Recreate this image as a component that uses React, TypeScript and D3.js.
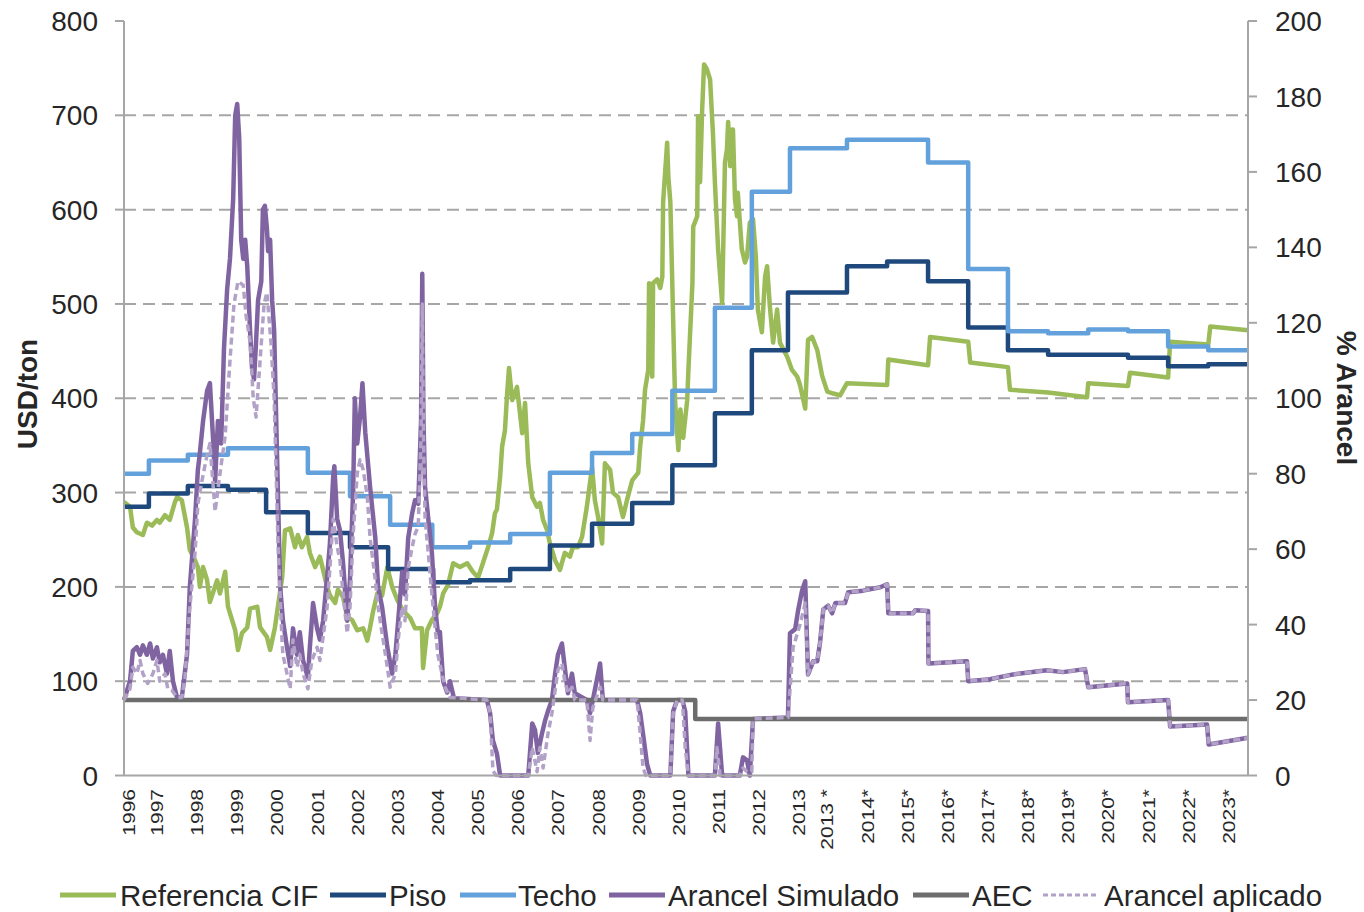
import { useEffect, useRef } from 'react';
import * as d3 from 'd3';

type Pt = [number, number];

// x values are fractional years, y in USD/ton (left) or % (right)
const referenciaCif: Pt[] = [
  [1996.18, 290], [1996.33, 285], [1996.40, 263], [1996.50, 258], [1996.65, 255], [1996.75, 268],
  [1996.88, 265], [1997.00, 271], [1997.07, 268], [1997.20, 276], [1997.32, 271], [1997.45, 290],
  [1997.50, 295], [1997.62, 292], [1997.75, 263], [1997.82, 239], [1997.95, 228], [1998.02, 221],
  [1998.07, 200], [1998.15, 221], [1998.25, 207], [1998.32, 184], [1998.50, 207], [1998.57, 193],
  [1998.70, 216], [1998.77, 179], [1998.95, 154], [1999.02, 133], [1999.12, 151], [1999.25, 157],
  [1999.32, 177], [1999.50, 179], [1999.57, 157], [1999.74, 147], [1999.82, 133], [1999.94, 157],
  [2000.02, 181], [2000.12, 210], [2000.19, 260], [2000.32, 262], [2000.44, 242], [2000.51, 255],
  [2000.61, 242], [2000.74, 253], [2000.81, 236], [2000.94, 221], [2001.06, 232], [2001.14, 218],
  [2001.24, 200], [2001.31, 191], [2001.44, 183], [2001.51, 197], [2001.64, 189], [2001.74, 168],
  [2001.86, 165], [2001.99, 154], [2002.14, 156], [2002.24, 143], [2002.31, 157], [2002.39, 175],
  [2002.49, 193], [2002.61, 191], [2002.74, 221], [2002.86, 200], [2002.99, 186], [2003.13, 175],
  [2003.31, 167], [2003.43, 156], [2003.60, 156], [2003.63, 114], [2003.73, 154], [2003.85, 165],
  [2003.98, 172], [2004.05, 179], [2004.13, 193], [2004.25, 202], [2004.38, 225], [2004.55, 221],
  [2004.73, 225], [2004.87, 216], [2005.00, 210], [2005.12, 225], [2005.25, 242], [2005.35, 257],
  [2005.42, 278], [2005.47, 282], [2005.55, 317], [2005.60, 349], [2005.67, 366], [2005.72, 402],
  [2005.77, 432], [2005.85, 398], [2005.97, 412], [2006.10, 363], [2006.17, 395], [2006.25, 331],
  [2006.35, 295], [2006.47, 285], [2006.54, 289], [2006.62, 271], [2006.72, 260], [2006.79, 246],
  [2006.92, 228], [2007.04, 218], [2007.16, 236], [2007.29, 232], [2007.36, 242], [2007.49, 242],
  [2007.59, 253], [2007.71, 285], [2007.84, 327], [2007.91, 292], [2007.99, 274], [2008.09, 246],
  [2008.16, 331], [2008.29, 324], [2008.36, 300], [2008.49, 295], [2008.61, 274], [2008.71, 292],
  [2008.84, 313], [2008.99, 321], [2009.04, 350], [2009.11, 376], [2009.16, 409], [2009.24, 430],
  [2009.26, 522], [2009.34, 423], [2009.36, 522], [2009.46, 526], [2009.54, 517], [2009.59, 529],
  [2009.61, 608], [2009.71, 671], [2009.74, 635], [2009.79, 608], [2009.91, 395], [2009.99, 345],
  [2010.04, 388], [2010.11, 358], [2010.21, 398], [2010.24, 430], [2010.34, 522], [2010.36, 582],
  [2010.46, 593], [2010.48, 699], [2010.53, 629], [2010.58, 703], [2010.63, 754], [2010.70, 749],
  [2010.78, 738], [2010.85, 682], [2010.90, 629], [2010.98, 558], [2011.08, 501], [2011.15, 650],
  [2011.20, 664], [2011.23, 693], [2011.28, 646], [2011.33, 685], [2011.35, 685], [2011.40, 611],
  [2011.45, 593], [2011.47, 618], [2011.57, 558], [2011.65, 544], [2011.70, 550], [2011.77, 586],
  [2011.85, 590], [2011.92, 550], [2011.97, 494], [2012.07, 470], [2012.15, 529], [2012.20, 540],
  [2012.27, 497], [2012.35, 459], [2012.45, 494], [2012.52, 459], [2012.70, 444], [2012.82, 430],
  [2012.95, 423], [2013.02, 414], [2013.15, 389], [2013.22, 462], [2013.32, 465], [2013.45, 451],
  [2013.57, 424], [2013.70, 407], [2013.85, 405], [2014.02, 403], [2014.19, 416], [2015.19, 414],
  [2015.22, 441], [2016.21, 435], [2016.26, 465], [2017.21, 460], [2017.26, 438], [2018.20, 433],
  [2018.25, 409], [2019.20, 406], [2020.17, 401], [2020.20, 416], [2021.19, 413], [2021.24, 427],
  [2022.19, 422], [2022.24, 460], [2023.19, 457], [2023.24, 476], [2024.18, 472],
];

const piso: Pt[] = [
  [1996.18, 285], [1996.80, 299], [1997.77, 307], [1998.77, 303], [1999.72, 279], [2000.76, 257],
  [2001.81, 242], [2002.76, 219], [2003.88, 205], [2004.80, 207], [2005.80, 219], [2006.79, 244],
  [2007.84, 267], [2008.84, 289], [2009.84, 329], [2010.90, 384], [2011.82, 451], [2012.72, 512],
  [2014.19, 540], [2015.19, 545], [2016.21, 524], [2017.21, 475], [2018.20, 451], [2019.20, 446],
  [2021.19, 443], [2022.19, 434], [2023.19, 436], [2024.18, 436],
];

const techo: Pt[] = [
  [1996.18, 320], [1996.80, 334], [1997.77, 340], [1998.77, 347], [2000.76, 321], [2001.81, 296],
  [2002.81, 266], [2003.86, 242], [2004.80, 247], [2005.80, 256], [2006.79, 321], [2007.84, 342],
  [2008.84, 362], [2009.84, 408], [2010.90, 496], [2011.82, 619], [2012.77, 665], [2014.19, 674],
  [2016.21, 650], [2017.21, 537], [2018.20, 471], [2019.20, 469], [2020.20, 473], [2021.19, 471],
  [2022.19, 455], [2023.19, 451], [2024.18, 451],
];

const arancelSimulado: Pt[] = [
  [1996.18, 20], [1996.20, 20.7], [1996.33, 25], [1996.40, 33], [1996.50, 34], [1996.58, 32],
  [1996.65, 34.5], [1996.75, 32], [1996.83, 35], [1996.90, 31], [1997.00, 34], [1997.07, 30],
  [1997.15, 32], [1997.25, 27], [1997.32, 33], [1997.40, 25], [1997.50, 20.7], [1997.62, 20.7],
  [1997.75, 32], [1997.82, 50], [1997.95, 68], [1998.02, 81], [1998.07, 85.5], [1998.15, 94],
  [1998.25, 102], [1998.32, 104], [1998.40, 89], [1998.45, 78], [1998.52, 94], [1998.60, 88],
  [1998.67, 113], [1998.75, 129], [1998.82, 137], [1998.90, 153], [1998.95, 175], [1999.00, 178],
  [1999.05, 169], [1999.10, 142], [1999.15, 137], [1999.20, 142], [1999.25, 135], [1999.32, 118],
  [1999.37, 108], [1999.42, 105], [1999.47, 115], [1999.52, 126], [1999.60, 131], [1999.64, 150],
  [1999.69, 151], [1999.74, 145], [1999.77, 139], [1999.82, 142], [1999.87, 126], [1999.92, 118],
  [1999.99, 86], [2000.07, 50], [2000.14, 41], [2000.24, 34], [2000.32, 29], [2000.39, 39],
  [2000.49, 32], [2000.56, 38], [2000.64, 30.5], [2000.76, 26], [2000.81, 34], [2000.89, 45.7],
  [2000.99, 39], [2001.06, 36], [2001.14, 41], [2001.24, 52.6], [2001.31, 61.6], [2001.39, 79],
  [2001.42, 82], [2001.49, 68], [2001.56, 65], [2001.64, 56], [2001.74, 41], [2001.81, 52],
  [2001.89, 76], [2001.93, 100], [2001.99, 88], [2002.06, 95], [2002.12, 104], [2002.19, 91],
  [2002.31, 76.5], [2002.44, 63], [2002.51, 50], [2002.61, 44.6], [2002.74, 34], [2002.86, 27],
  [2002.94, 32], [2003.01, 41], [2003.11, 54], [2003.18, 48], [2003.26, 63], [2003.36, 69.6],
  [2003.43, 73], [2003.51, 72], [2003.58, 94], [2003.61, 133], [2003.64, 94], [2003.68, 76.5],
  [2003.76, 68], [2003.85, 59], [2003.93, 44.6], [2004.00, 37.7], [2004.05, 38], [2004.13, 25],
  [2004.23, 22], [2004.30, 25], [2004.40, 20.5], [2005.22, 20], [2005.30, 16.5], [2005.37, 9.3],
  [2005.47, 5.8], [2005.55, 0], [2006.25, 0], [2006.35, 13.8], [2006.42, 12], [2006.49, 6],
  [2006.59, 11], [2006.67, 14.6], [2006.74, 17], [2006.84, 20], [2006.92, 27], [2006.99, 32],
  [2007.09, 35], [2007.16, 28.7], [2007.24, 21.8], [2007.34, 27], [2007.41, 21.8], [2007.54, 21],
  [2007.71, 20], [2007.79, 16.5], [2007.86, 20], [2008.04, 29.7], [2008.11, 20], [2008.96, 20],
  [2009.04, 16.5], [2009.11, 11], [2009.21, 3], [2009.29, 0], [2009.79, 0], [2009.86, 17],
  [2009.96, 20], [2010.09, 20], [2010.16, 17], [2010.24, 0], [2010.90, 0], [2010.98, 13.8],
  [2011.08, 0], [2011.52, 0], [2011.60, 4.8], [2011.70, 4], [2011.77, 0], [2011.85, 15],
  [2012.72, 15.4], [2012.77, 37.7], [2012.90, 38.8], [2012.97, 43.6], [2013.07, 49], [2013.15, 51.5],
  [2013.22, 26.8], [2013.35, 30.3], [2013.45, 30.3], [2013.52, 35.3], [2013.60, 44], [2013.72, 45],
  [2013.82, 43], [2013.90, 45.7], [2014.14, 45.7], [2014.22, 48.6], [2014.59, 49], [2015.02, 49.9],
  [2015.19, 50.7], [2015.22, 43], [2015.84, 43], [2015.89, 43.8], [2016.21, 43.6], [2016.22, 29.7],
  [2017.18, 30.3], [2017.21, 25], [2017.75, 25.5], [2018.33, 26.8], [2019.17, 27.9], [2019.57, 27.4],
  [2020.12, 28.2], [2020.20, 23.4], [2021.17, 24.4], [2021.19, 19.4], [2022.19, 20], [2022.24, 13],
  [2023.16, 13.5], [2023.20, 8.2], [2024.18, 10],
];

const aec: Pt[] = [[1996.18, 20], [2010.41, 15], [2024.18, 15]];

const arancelAplicado: Pt[] = [
  [1996.18, 20], [1996.33, 23], [1996.40, 28.7], [1996.50, 27], [1996.58, 30.5], [1996.65, 27],
  [1996.77, 24.4], [1996.90, 27], [1997.00, 30.5], [1997.07, 25], [1997.20, 27], [1997.27, 23],
  [1997.37, 22.6], [1997.50, 20.7], [1997.62, 20.7], [1997.70, 26], [1997.82, 44.6], [1997.95, 59],
  [1998.02, 72], [1998.12, 78], [1998.25, 85], [1998.32, 88], [1998.45, 70], [1998.57, 80],
  [1998.70, 90], [1998.82, 110], [1998.92, 125], [1999.02, 131], [1999.15, 130], [1999.22, 122],
  [1999.32, 115], [1999.40, 100], [1999.47, 95], [1999.57, 110], [1999.67, 125], [1999.74, 128],
  [1999.84, 115], [1999.92, 100], [2000.02, 60], [2000.12, 35], [2000.14, 32], [2000.24, 27],
  [2000.32, 23], [2000.39, 36], [2000.49, 28.7], [2000.56, 32], [2000.64, 27], [2000.76, 23],
  [2000.86, 30.5], [2000.99, 34], [2001.06, 30.5], [2001.14, 36.7], [2001.24, 44.6], [2001.31, 55],
  [2001.39, 68], [2001.49, 60.6], [2001.56, 57], [2001.64, 48], [2001.74, 37.7], [2001.81, 44.6],
  [2001.89, 64], [2001.99, 80], [2002.06, 83.7], [2002.14, 81], [2002.24, 74], [2002.31, 63],
  [2002.44, 51.8], [2002.51, 44.6], [2002.61, 37.7], [2002.74, 28.7], [2002.81, 23.4], [2002.94, 27],
  [2003.01, 36], [2003.11, 44.6], [2003.18, 41], [2003.26, 55], [2003.36, 60.6], [2003.43, 64],
  [2003.51, 66], [2003.58, 90], [2003.61, 125], [2003.64, 90], [2003.68, 68], [2003.76, 59],
  [2003.85, 48], [2003.93, 39], [2004.00, 32], [2004.10, 27], [2004.18, 23.4], [2004.30, 20.7],
  [2005.22, 20], [2005.30, 16.5], [2005.37, 1.3], [2005.45, 0], [2006.25, 0], [2006.35, 7.4],
  [2006.47, 1], [2006.54, 7.4], [2006.62, 2], [2006.74, 11], [2006.84, 16.5], [2006.92, 22.6],
  [2006.99, 28], [2007.09, 29.7], [2007.16, 25], [2007.24, 21.8], [2007.34, 23.4], [2007.41, 20],
  [2007.71, 20], [2007.79, 9.3], [2007.86, 18], [2008.04, 23.4], [2008.11, 20], [2008.96, 20],
  [2009.04, 11], [2009.11, 2], [2009.18, 0], [2009.79, 0], [2009.86, 16.5], [2009.96, 20],
  [2010.09, 20], [2010.16, 7.4], [2010.24, 0], [2010.90, 0], [2010.95, 7.4], [2011.03, 0],
  [2011.52, 0], [2011.60, 2], [2011.70, 1], [2011.82, 1], [2011.85, 15], [2012.72, 15.4],
  [2012.85, 34], [2013.02, 40], [2013.15, 45.7], [2013.22, 26.8], [2013.35, 30.3], [2013.45, 30.3],
  [2013.52, 35.3], [2013.60, 44], [2013.72, 45], [2013.82, 43], [2013.90, 45.7], [2014.14, 45.7],
  [2014.22, 48.6], [2014.59, 49], [2015.02, 49.9], [2015.19, 50.7], [2015.22, 43], [2015.84, 43],
  [2015.89, 43.8], [2016.21, 43.6], [2016.22, 29.7], [2017.18, 30.3], [2017.21, 25], [2017.75, 25.5],
  [2018.33, 26.8], [2019.17, 27.9], [2019.57, 27.4], [2020.12, 28.2], [2020.20, 23.4], [2021.17, 24.4],
  [2021.19, 19.4], [2022.19, 20], [2022.24, 13], [2023.16, 13.5], [2023.20, 8.2], [2024.18, 10],
];

// x-axis labels and where they sit on the time axis
const xLabels = [
  '1996', '1997', '1998', '1999', '2000', '2001', '2002', '2003', '2004', '2005', '2006', '2007',
  '2008', '2009', '2010', '2011', '2012', '2013', '2013 *', '2014*', '2015*', '2016*', '2017*',
  '2018*', '2019*', '2020*', '2021*', '2022*', '2023*',
];
const xLabelPos = [
  1996.3, 1997, 1998, 1999, 2000, 2001, 2002, 2003, 2004, 2005, 2006, 2007, 2008, 2009, 2010,
  2011, 2012, 2013, 2013.7, 2014.7, 2015.7, 2016.7, 2017.7, 2018.7, 2019.7, 2020.7, 2021.7,
  2022.7, 2023.7,
];
const leftTicks = [0, 100, 200, 300, 400, 500, 600, 700, 800];
const rightTicks = [0, 20, 40, 60, 80, 100, 120, 140, 160, 180, 200];

const FONT = "'Liberation Sans', Arial, sans-serif";

const SERIES = [
  { name: 'Referencia CIF', color: '#9bbb59', width: 4.5, dash: null, lx: 60, tx: 120 },
  { name: 'Piso', color: '#1f497d', width: 4.5, dash: null, lx: 330, tx: 389 },
  { name: 'Techo', color: '#63a1dc', width: 4.5, dash: null, lx: 460, tx: 518 },
  { name: 'Arancel Simulado', color: '#8064a2', width: 4.5, dash: null, lx: 609, tx: 668 },
  { name: 'AEC', color: '#6d6d6d', width: 4.5, dash: null, lx: 913, tx: 972 },
  { name: 'Arancel aplicado', color: '#b3a2c7', width: 3.5, dash: '7,4', lx: 1043, tx: 1104 },
];

export default function App() {
  const svgRef = useRef<SVGSVGElement>(null);

  useEffect(() => {
    if (!svgRef.current) return;
    const svg = d3.select(svgRef.current);
    svg.selectAll('*').remove();

    const left = 124, right = 1248, top = 21, bottom = 775.5;
    const x = d3.scaleLinear().domain([1996.18, 2024.18]).range([left, right]);
    const yL = d3.scaleLinear().domain([0, 800]).range([bottom, top]);
    const yR = d3.scaleLinear().domain([0, 200]).range([bottom, top]);
    const axisColor = '#a6a6a6';
    const textColor = '#262626';

    // gridlines
    svg.append('g')
      .selectAll('line')
      .data(leftTicks.filter(d => d > 0 && d < 800))
      .enter()
      .append('line')
      .attr('x1', left).attr('x2', right)
      .attr('y1', d => yL(d)).attr('y2', d => yL(d))
      .attr('stroke', axisColor)
      .attr('stroke-width', 2)
      .attr('stroke-dasharray', '12,7');

    const lineL = d3.line<Pt>().x(d => x(d[0])).y(d => yL(d[1]));
    const lineR = d3.line<Pt>().x(d => x(d[0])).y(d => yR(d[1]));
    const stepL = d3.line<Pt>().x(d => x(d[0])).y(d => yL(d[1])).curve(d3.curveStepAfter);
    const stepR = d3.line<Pt>().x(d => x(d[0])).y(d => yR(d[1])).curve(d3.curveStepAfter);

    const plot = svg.append('g');
    const draw = (path: string | null, s: typeof SERIES[0]) => {
      plot.append('path')
        .attr('d', path)
        .attr('fill', 'none')
        .attr('stroke', s.color)
        .attr('stroke-width', s.width)
        .attr('stroke-linejoin', 'round')
        .attr('stroke-dasharray', s.dash);
    };
    draw(lineL(referenciaCif), SERIES[0]);
    draw(stepL(piso), SERIES[1]);
    draw(stepL(techo), SERIES[2]);
    draw(lineR(arancelSimulado), SERIES[3]);
    draw(stepR(aec), SERIES[4]);
    draw(lineR(arancelAplicado), SERIES[5]);

    // axes
    const ax = svg.append('g').attr('stroke', axisColor).attr('stroke-width', 2);
    ax.append('line').attr('x1', left).attr('x2', left).attr('y1', top).attr('y2', bottom);
    ax.append('line').attr('x1', right).attr('x2', right).attr('y1', top).attr('y2', bottom);
    ax.append('line').attr('x1', left).attr('x2', right).attr('y1', bottom).attr('y2', bottom);
    leftTicks.forEach(t => {
      ax.append('line').attr('x1', left - 9).attr('x2', left).attr('y1', yL(t)).attr('y2', yL(t));
    });
    rightTicks.forEach(t => {
      ax.append('line').attr('x1', right).attr('x2', right + 9).attr('y1', yR(t)).attr('y2', yR(t));
    });

    const txt = svg.append('g').attr('font-family', FONT).attr('fill', textColor);
    leftTicks.forEach(t => {
      txt.append('text')
        .attr('x', 98).attr('y', yL(t)).attr('dy', '0.36em')
        .attr('text-anchor', 'end').attr('font-size', 28)
        .text(t);
    });
    rightTicks.forEach(t => {
      txt.append('text')
        .attr('x', 1275).attr('y', yR(t)).attr('dy', '0.36em')
        .attr('text-anchor', 'start').attr('font-size', 28)
        .text(t);
    });
    xLabels.forEach((lab, i) => {
      txt.append('text')
        .attr('transform', `translate(${x(xLabelPos[i])},789) rotate(-90) scale(1,0.8)`)
        .attr('dy', '0.36em')
        .attr('text-anchor', 'end').attr('font-size', 21)
        .text(lab);
    });

    txt.append('text')
      .attr('transform', 'translate(37,394) rotate(-90)')
      .attr('text-anchor', 'middle').attr('font-size', 28).attr('font-weight', 'bold')
      .text('USD/ton');
    txt.append('text')
      .attr('transform', 'translate(1337,398) rotate(90)')
      .attr('text-anchor', 'middle').attr('font-size', 28).attr('font-weight', 'bold')
      .text('% Arancel');

    // legend
    const lg = svg.append('g');
    SERIES.forEach(s => {
      lg.append('line')
        .attr('x1', s.lx).attr('x2', s.lx + 56)
        .attr('y1', 895).attr('y2', 895)
        .attr('stroke', s.color)
        .attr('stroke-width', s.dash ? 3 : 5)
        .attr('stroke-dasharray', s.dash ? '5,3' : null);
      lg.append('text')
        .attr('x', s.tx).attr('y', 895).attr('dy', '0.36em')
        .attr('font-family', FONT).attr('font-size', 29.5).attr('fill', textColor)
        .text(s.name);
    });
  }, []);

  return (
    <div>
      <style>{'body{margin:0}'}</style>
      <svg ref={svgRef} width={1364} height={912} style={{ display: 'block', background: '#fff' }}></svg>
    </div>
  );
}
